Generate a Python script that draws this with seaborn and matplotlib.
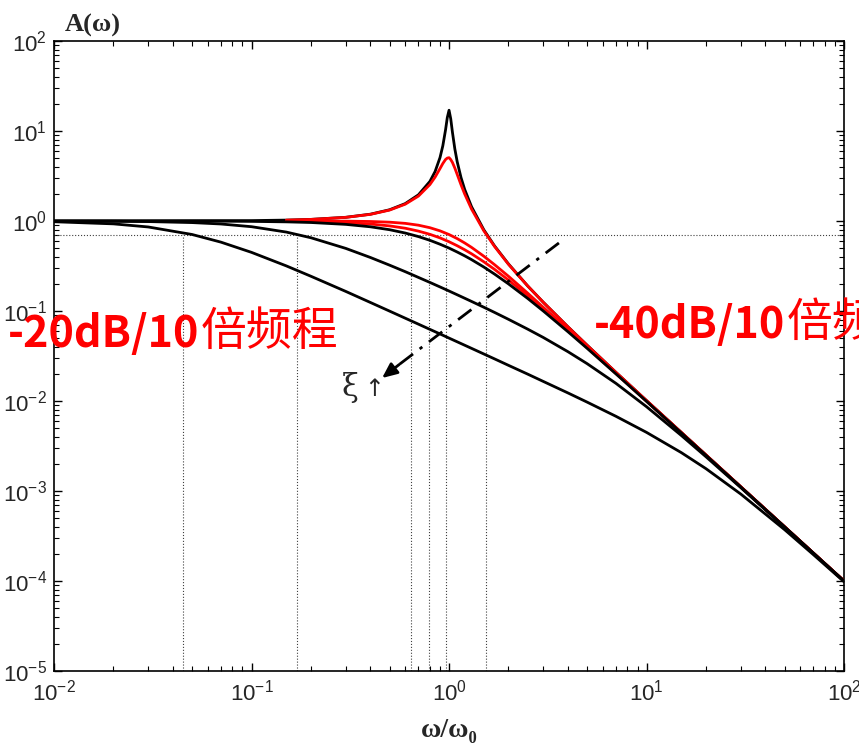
import numpy as np
import pandas as pd
import seaborn as sns
import matplotlib.pyplot as plt
from matplotlib.ticker import LogLocator, NullFormatter

# frequency ratio w/w0 and amplitude A(w)
r_peak = [0.01, 0.1, 0.15, 0.2, 0.3, 0.4, 0.5, 0.6, 0.7, 0.8, 0.85, 0.9, 0.93, 0.96, 0.98,
          1.0, 1.02, 1.04, 1.07, 1.1, 1.15, 1.2, 1.3, 1.5, 1.7, 2, 2.5, 3, 4, 5, 7, 10, 20, 50, 100]
amp_xi003 = [1.0, 1.01, 1.023, 1.042, 1.099, 1.19, 1.333, 1.56, 1.954, 2.753, 3.545, 5.063, 6.84, 10.28, 14.11,
             17.0, 13.64, 9.73, 6.31, 4.543, 3.032, 2.243, 1.44, 0.798, 0.528, 0.333, 0.190, 0.125, 0.0667, 0.0417,
             0.0208, 0.0101, 0.00251, 0.0004, 0.0001]
amp_xi01 = [1.0, 1.01, 1.022, 1.041, 1.097, 1.185, 1.322, 1.536, 1.891, 2.538, 3.073, 3.821, 4.35, 4.82, 5.0,
            5.05, 4.81, 4.476, 3.869, 3.288, 2.524, 1.995, 1.356, 0.778, 0.521, 0.330, 0.190, 0.125, 0.0666, 0.0416,
            0.0208, 0.0101, 0.00251, 0.0004, 0.0001]

r_smooth = [0.01, 0.02, 0.03, 0.05, 0.07, 0.1, 0.15, 0.2, 0.3, 0.4, 0.5, 0.6, 0.7, 0.8, 0.9, 1.0, 1.1, 1.2,
            1.3, 1.5, 1.7, 2, 2.5, 3, 4, 5, 7, 10, 15, 20, 30, 50, 70, 100]
amp_xi0707 = [1.0, 1.0, 1.0, 1.0, 1.0, 1.0, 1.0, 0.999, 0.996, 0.987, 0.970, 0.941, 0.898, 0.842, 0.777, 0.707,
              0.637, 0.570, 0.509, 0.406, 0.327, 0.243, 0.158, 0.110, 0.0624, 0.0400, 0.0204, 0.0100, 0.00444,
              0.0025, 0.00111, 0.0004, 0.000204, 0.0001]
amp_xi085 = [1.0, 1.0, 1.0, 0.999, 0.998, 0.996, 0.990, 0.982, 0.959, 0.925, 0.882, 0.831, 0.772, 0.711, 0.649,
             0.588, 0.531, 0.479, 0.432, 0.352, 0.290, 0.2205, 0.148, 0.1054, 0.0607, 0.0393, 0.0202, 0.00996,
             0.00444, 0.0025, 0.00111, 0.0004, 0.000204, 0.0001]
amp_xi1 = [1.0, 1.0, 0.999, 0.998, 0.995, 0.990, 0.978, 0.962, 0.917, 0.862, 0.800, 0.735, 0.671, 0.610, 0.552,
           0.500, 0.452, 0.410, 0.372, 0.308, 0.257, 0.200, 0.138, 0.100, 0.0588, 0.0385, 0.0200, 0.0099,
           0.00442, 0.00249, 0.00111, 0.0004, 0.000204, 0.0001]
amp_xi3 = [0.998, 0.993, 0.985, 0.960, 0.926, 0.864, 0.753, 0.651, 0.496, 0.393, 0.323, 0.2735, 0.236, 0.2077,
           0.1851, 0.1667, 0.1514, 0.1386, 0.1277, 0.1101, 0.0964, 0.0808, 0.0629, 0.0508, 0.0353, 0.0260,
           0.0157, 0.00864, 0.00414, 0.0024, 0.00109, 0.000397, 0.000203, 0.0000998]
amp_xi10 = [0.981, 0.929, 0.858, 0.708, 0.582, 0.448, 0.317, 0.243, 0.165, 0.1243, 0.0997, 0.0832, 0.0714,
            0.0625, 0.0556, 0.0500, 0.04545, 0.04166, 0.03845, 0.0333, 0.02937, 0.0249, 0.0199, 0.0165, 0.01229,
            0.00972, 0.00676, 0.00448, 0.00267, 0.00177, 0.000925, 0.000372, 0.000196, 0.0000981]

half_power = 0.707
cross_r = [0.045, 0.17, 0.642, 0.79, 0.966, 1.54]
red_start = 0.15

curves = [
    ('0.03', r_peak, amp_xi003, 'black'),
    ('0.1', r_peak, amp_xi01, 'red'),
    ('0.707', r_smooth, amp_xi0707, 'red'),
    ('0.85', r_smooth, amp_xi085, 'red'),
    ('1', r_smooth, amp_xi1, 'black'),
    ('3', r_smooth, amp_xi3, 'black'),
    ('10', r_smooth, amp_xi10, 'black'),
]

frames = []
for xi, r, a, c in curves:
    d = pd.DataFrame({'r': r, 'A': a, 'xi': xi})
    if c == 'red':
        d = d[d['r'] >= red_start]
    frames.append(d)
df = pd.concat(frames, ignore_index=True)
palette = {xi: c for xi, _, _, c in curves}

sns.set_style('ticks')
plt.rcParams['font.family'] = ['Liberation Sans', 'DejaVu Sans']
plt.rcParams['axes.linewidth'] = 1.2
serif = ['Liberation Serif', 'DejaVu Serif']

fig = plt.figure(figsize=(8.59, 7.49), dpi=100)
ax = fig.add_axes([0.0629, 0.1041, 0.9197, 0.8412])
ax.set_xscale('log')
ax.set_yscale('log')

ax.axhline(half_power, ls=':', color='0.25', lw=0.8, zorder=1)
ax.vlines(cross_r, 1e-5, half_power, linestyles=':', colors='0.25', lw=0.8, zorder=1)

sns.lineplot(data=df, x='r', y='A', hue='xi', palette=palette, estimator=None,
             sort=False, lw=2, legend=False, ax=ax, zorder=3)

# dash-dot arrow pointing towards increasing damping
arrow_start = (3.6, 0.57)
arrow_mid = (0.56, 0.0255)
arrow_end = (0.458, 0.018)
ax.plot([arrow_start[0], arrow_mid[0]], [arrow_start[1], arrow_mid[1]],
        ls=(0, (6, 3, 1.2, 3)), lw=2, color='black', zorder=4)
ax.annotate('', xy=arrow_end, xytext=arrow_mid,
            arrowprops=dict(arrowstyle='-|>,head_length=0.9,head_width=0.4', color='black',
                            lw=2, shrinkA=0, shrinkB=0), zorder=4)
ax.text(0.285, 0.0114, 'ξ', fontsize=22, family=['DejaVu Serif'], va='baseline')
ax.text(0.37, 0.0114, '↑', fontsize=17, family=['DejaVu Sans'], va='baseline')

ax.set_xlim(1e-2, 1e2)
ax.set_ylim(1e-5, 1e2)
ax.xaxis.set_major_locator(LogLocator(base=10, numticks=20))
ax.yaxis.set_major_locator(LogLocator(base=10, numticks=20))
ax.xaxis.set_minor_locator(LogLocator(base=10, subs=np.arange(2, 10), numticks=20))
ax.yaxis.set_minor_locator(LogLocator(base=10, subs=np.arange(2, 10), numticks=20))
ax.xaxis.set_minor_formatter(NullFormatter())
ax.yaxis.set_minor_formatter(NullFormatter())
ax.tick_params(which='both', direction='in', top=True, right=True, color='black', labelsize=16)
ax.tick_params(which='major', length=6, width=1)
ax.tick_params(which='minor', length=3.5, width=0.8)
ax.tick_params(axis='x', pad=6)
ax.tick_params(axis='y', pad=5)
for s in ax.spines.values():
    s.set_color('black')

ax.set_xlabel('ω/ω₀', fontsize=20, fontweight='bold', family=serif, labelpad=9)
ax.set_ylabel('')
ax.text(0.01137, 125.9, 'A(ω)', fontsize=19, fontweight='bold', family=serif, va='baseline')

# slope annotations
for x0, y0, slope in [(0.00585, 0.0398, '-20dB/10'), (5.42, 0.0501, '-40dB/10')]:
    t1 = ax.text(x0, y0, slope, fontsize=31, fontweight='bold', color='red',
                 family=['Noto Sans CJK SC', 'DejaVu Sans'], va='baseline')
    ax.annotate('倍频程', xy=(1, 0), xycoords=t1, xytext=(1, 0), textcoords='offset points',
                fontsize=33, color='red', family=['Noto Sans CJK SC', 'DejaVu Sans'],
                va='bottom', ha='left')

fig.savefig('out.png', dpi=100)
